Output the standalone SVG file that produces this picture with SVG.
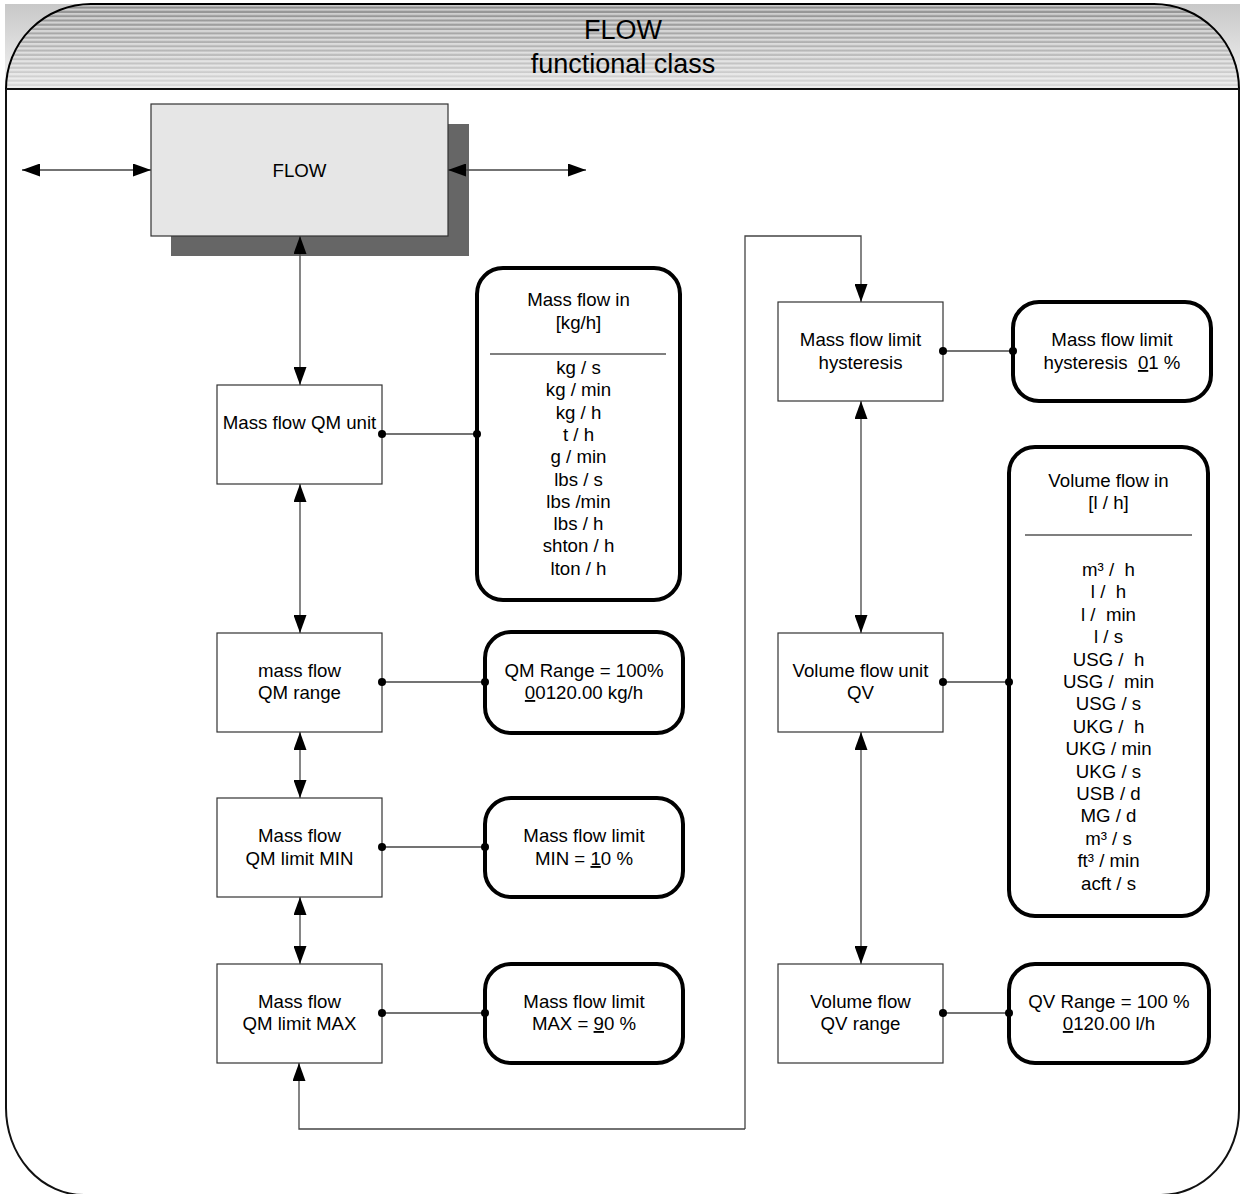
<svg xmlns="http://www.w3.org/2000/svg" width="1240" height="1194" viewBox="0 0 1240 1194">
<style>
text{font-family:"Liberation Sans",Arial,sans-serif;font-size:18.67px;fill:#000;text-anchor:middle}
.hdr{font-size:27px}
.box{fill:#fff;stroke:#333;stroke-width:1.2}
.rbox{fill:#fff;stroke:#000;stroke-width:4}
.con{fill:none;stroke:#444;stroke-width:1.3}
.arr{marker-start:url(#ah);marker-end:url(#ah)}
.dot{fill:#000}
.u{text-decoration:underline}
</style>
<defs>
<marker id="ah" markerUnits="userSpaceOnUse" markerWidth="18" markerHeight="13" refX="18" refY="6.5" orient="auto-start-reverse" viewBox="0 0 18 13">
<path d="M0,0 L18,6.5 L0,13 Z" fill="#000"/>
</marker>
<linearGradient id="hg" x1="0" y1="0" x2="0" y2="1">
<stop offset="0" stop-color="#c8c8c8"/>
<stop offset="1" stop-color="#f4f4f4"/>
</linearGradient>
<linearGradient id="hg2" x1="0" y1="0" x2="0" y2="1">
<stop offset="0" stop-color="#8c8c8c"/>
<stop offset="1" stop-color="#dcdcdc"/>
</linearGradient>
<pattern id="stripes" patternUnits="userSpaceOnUse" width="20" height="4.3">
<rect x="0" y="0" width="20" height="2.2" fill="#fff" fill-opacity="0.55"/>
</pattern>
</defs>
<g id="frame">
<rect x="5" y="4" width="1235" height="85" fill="url(#hg)"/>
<path d="M6,89 A85,85 0 0 1 91,4 H1154 A85,85 0 0 1 1239,89 Z" fill="url(#hg2)"/>
<path d="M6,89 A85,85 0 0 1 91,4 H1154 A85,85 0 0 1 1239,89 Z" fill="url(#stripes)" stroke="#000" stroke-width="2"/>
<path d="M6,89 V1108 A78,87 0 0 0 84,1195 H1161 A78,85 0 0 0 1239,1110 V89" fill="none" stroke="#111" stroke-width="2"/>
<line x1="6" y1="89" x2="1239" y2="89" stroke="#111" stroke-width="2"/>
<text class="hdr" x="623" y="39">FLOW</text>
<text class="hdr" x="623" y="73">functional class</text>
</g>
<g id="flow">
<rect x="171" y="124" width="298" height="132" fill="#666"/>
<rect x="151" y="104" width="297" height="132" fill="#e6e6e6" stroke="#333" stroke-width="1.2"/>
<text x="299.5" y="177">FLOW</text>
</g>
<g id="qm-unit">
<rect class="box" x="217" y="385" width="165" height="99"/>
<text x="299.5" y="429">Mass flow QM unit</text>
</g>
<g id="qm-range">
<rect class="box" x="217" y="633" width="165" height="99"/>
<text x="299.5" y="677">mass flow</text>
<text x="299.5" y="699">QM range</text>
</g>
<g id="qm-min">
<rect class="box" x="217" y="798" width="165" height="99"/>
<text x="299.5" y="842">Mass flow</text>
<text x="299.5" y="865">QM limit MIN</text>
</g>
<g id="qm-max">
<rect class="box" x="217" y="964" width="165" height="99"/>
<text x="299.5" y="1008">Mass flow</text>
<text x="299.5" y="1030">QM limit MAX</text>
</g>
<g id="hyst">
<rect class="box" x="778" y="302" width="165" height="99"/>
<text x="860.5" y="346">Mass flow limit</text>
<text x="860.5" y="369">hysteresis</text>
</g>
<g id="qv-unit">
<rect class="box" x="778" y="633" width="165" height="99"/>
<text x="860.5" y="677">Volume flow unit</text>
<text x="860.5" y="699">QV</text>
</g>
<g id="qv-range">
<rect class="box" x="778" y="964" width="165" height="99"/>
<text x="860.5" y="1008">Volume flow</text>
<text x="860.5" y="1030">QV range</text>
</g>
<g id="massflow-in">
<rect class="rbox" x="477" y="268" width="203" height="332" rx="26"/>
<text x="578.5" y="306">Mass flow in</text>
<text x="578.5" y="329">[kg/h]</text>
<line x1="490" y1="354" x2="666" y2="354" stroke="#000" stroke-width="1.2"/>
<text x="578.5" y="374" xml:space="preserve"><tspan x="578.5">kg / s</tspan><tspan x="578.5" dy="22.3">kg / min</tspan><tspan x="578.5" dy="22.3">kg / h</tspan><tspan x="578.5" dy="22.3">t / h</tspan><tspan x="578.5" dy="22.3">g / min</tspan><tspan x="578.5" dy="22.3">lbs / s</tspan><tspan x="578.5" dy="22.3">lbs /min</tspan><tspan x="578.5" dy="22.3">lbs / h</tspan><tspan x="578.5" dy="22.3">shton / h</tspan><tspan x="578.5" dy="22.3">lton / h</tspan></text>
</g>
<g id="qm-range-val">
<rect class="rbox" x="485" y="632" width="198" height="101" rx="26"/>
<text x="584" y="677">QM Range = 100%</text>
<text x="584" y="699"><tspan class="u">0</tspan>0120.00 kg/h</text>
</g>
<g id="min-val">
<rect class="rbox" x="485" y="798" width="198" height="99" rx="26"/>
<text x="584" y="842">Mass flow limit</text>
<text x="584" y="865">MIN = <tspan class="u">1</tspan>0 %</text>
</g>
<g id="max-val">
<rect class="rbox" x="485" y="964" width="198" height="99" rx="26"/>
<text x="584" y="1008">Mass flow limit</text>
<text x="584" y="1030">MAX = <tspan class="u">9</tspan>0 %</text>
</g>
<g id="hyst-val">
<rect class="rbox" x="1013" y="302" width="198" height="99" rx="26"/>
<text x="1112" y="346">Mass flow limit</text>
<text x="1112" y="369" xml:space="preserve">hysteresis  <tspan class="u">0</tspan>1 %</text>
</g>
<g id="volflow-in">
<rect class="rbox" x="1009" y="447" width="199" height="469" rx="26"/>
<text x="1108.5" y="487">Volume flow in</text>
<text x="1108.5" y="509">[l / h]</text>
<line x1="1025" y1="535" x2="1192" y2="535" stroke="#000" stroke-width="1.2"/>
<text x="1108.5" y="576" xml:space="preserve"><tspan x="1108.5">m³ /  h</tspan><tspan x="1108.5" dy="22.4">l /  h</tspan><tspan x="1108.5" dy="22.4">l /  min</tspan><tspan x="1108.5" dy="22.4">l / s</tspan><tspan x="1108.5" dy="22.4">USG /  h</tspan><tspan x="1108.5" dy="22.4">USG /  min</tspan><tspan x="1108.5" dy="22.4">USG / s</tspan><tspan x="1108.5" dy="22.4">UKG /  h</tspan><tspan x="1108.5" dy="22.4">UKG / min</tspan><tspan x="1108.5" dy="22.4">UKG / s</tspan><tspan x="1108.5" dy="22.4">USB / d</tspan><tspan x="1108.5" dy="22.4">MG / d</tspan><tspan x="1108.5" dy="22.4">m³ / s</tspan><tspan x="1108.5" dy="22.4">ft³ / min</tspan><tspan x="1108.5" dy="22.4">acft / s</tspan></text>
</g>
<g id="qv-range-val">
<rect class="rbox" x="1009" y="964" width="200" height="99" rx="26"/>
<text x="1109" y="1008">QV Range = 100 %</text>
<text x="1109" y="1030"><tspan class="u">0</tspan>120.00 l/h</text>
</g>
<g id="connectors">
<line class="con arr" x1="22" y1="170" x2="151" y2="170"/>
<line class="con arr" x1="448" y1="170" x2="586" y2="170"/>
<line class="con arr" x1="300" y1="236" x2="300" y2="385"/>
<line class="con arr" x1="300" y1="484" x2="300" y2="633"/>
<line class="con arr" x1="300" y1="732" x2="300" y2="798"/>
<line class="con arr" x1="300" y1="897" x2="300" y2="964"/>
<polyline class="con" points="745,1129 745,236 861,236 861,302" marker-end="url(#ah)"/>
<polyline class="con" points="745,1129 299,1129 299,1063" marker-end="url(#ah)"/>
<line class="con arr" x1="861" y1="401" x2="861" y2="633"/>
<line class="con arr" x1="861" y1="732" x2="861" y2="964"/>
<line class="con" x1="382" y1="434" x2="477" y2="434"/>
<line class="con" x1="382" y1="682" x2="485" y2="682"/>
<line class="con" x1="382" y1="847" x2="485" y2="847"/>
<line class="con" x1="382" y1="1013" x2="485" y2="1013"/>
<line class="con" x1="943" y1="351" x2="1013" y2="351"/>
<line class="con" x1="943" y1="682" x2="1009" y2="682"/>
<line class="con" x1="943" y1="1013" x2="1009" y2="1013"/>
<circle class="dot" cx="382" cy="434" r="4"/><circle class="dot" cx="477" cy="434" r="4"/>
<circle class="dot" cx="382" cy="682" r="4"/><circle class="dot" cx="485" cy="682" r="4"/>
<circle class="dot" cx="382" cy="847" r="4"/><circle class="dot" cx="485" cy="847" r="4"/>
<circle class="dot" cx="382" cy="1013" r="4"/><circle class="dot" cx="485" cy="1013" r="4"/>
<circle class="dot" cx="943" cy="351" r="4"/><circle class="dot" cx="1013" cy="351" r="4"/>
<circle class="dot" cx="943" cy="682" r="4"/><circle class="dot" cx="1009" cy="682" r="4"/>
<circle class="dot" cx="943" cy="1013" r="4"/><circle class="dot" cx="1009" cy="1013" r="4"/>
</g>
</svg>
